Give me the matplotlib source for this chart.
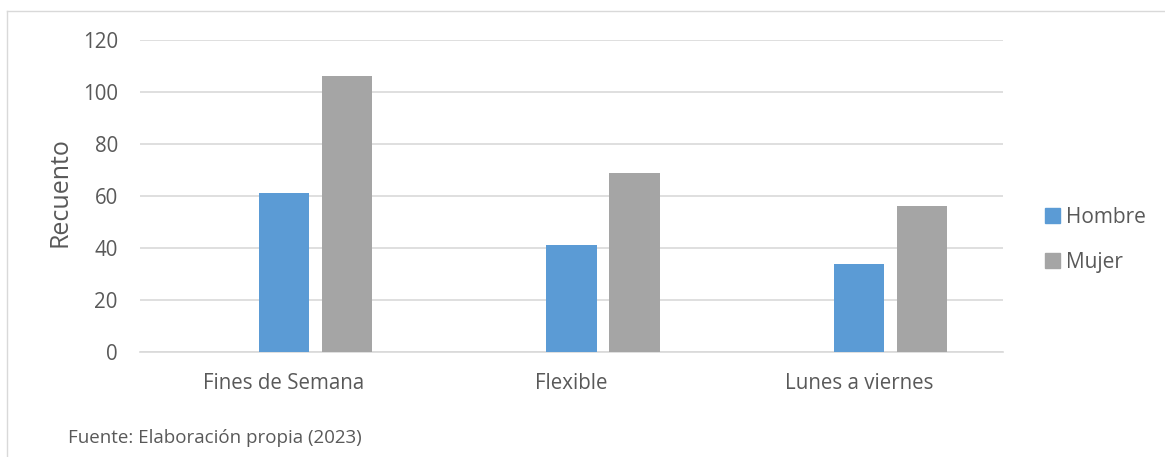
import matplotlib
matplotlib.use("Agg")
import matplotlib.pyplot as plt
from matplotlib.lines import Line2D
from matplotlib.patches import Patch
import numpy as np

categories = ["Fines de Semana", "Flexible", "Lunes a viernes"]
hombre = [61, 41, 34]
mujer = [106, 69, 56]
series_names = ["Hombre", "Mujer"]
yticks = [0, 20, 40, 60, 80, 100, 120]

C_HOMBRE = "#5B9BD5"
C_MUJER = "#A5A5A5"
C_GRID = "#D9D9D9"
C_TEXT = "#595959"

plt.rcParams["font.family"] = ["Open Sans", "DejaVu Sans"]

W, H = 1165, 457
fig = plt.figure(figsize=(W / 100, H / 100), dpi=100)
ax = fig.add_axes([140 / W, 105 / H, (1003 - 140) / W, 312 / H])

x = np.arange(len(categories))
bw = 0.174
slot = 0.219
ax.bar(x, hombre, width=bw, color=C_HOMBRE, zorder=3)
ax.bar(x + slot, mujer, width=bw, color=C_MUJER, zorder=3)

ax.set_xlim(-0.5, len(categories) - 0.5)
ax.set_ylim(0, 120)
ax.set_yticks(yticks)
ax.set_xticks(x)
ax.set_xticklabels(categories)
ax.tick_params(axis="both", length=0, labelsize=14.8, colors=C_TEXT)
ax.tick_params(axis="y", pad=16)
ax.tick_params(axis="x", pad=15)
ax.grid(axis="y", color=C_GRID, linewidth=1.2, zorder=0)
for s in ["top", "right", "left"]:
    ax.spines[s].set_visible(False)
ax.spines["bottom"].set_color(C_GRID)
ax.spines["bottom"].set_linewidth(1.2)

fig.text(60 / W, 1 - 192 / H, "Recuento", rotation=90, ha="center", va="center",
         fontsize=18, color=C_TEXT)

handles = [Patch(color=C_HOMBRE), Patch(color=C_MUJER)]
fig.legend(handles, series_names, loc="center left",
           bbox_to_anchor=(1045 / W, 1 - 240 / H), frameon=False,
           fontsize=15, labelcolor=C_TEXT, handlelength=0.7, handleheight=0.7,
           handletextpad=0.3, labelspacing=1.15, borderpad=0, borderaxespad=0)

fig.text(68 / W, 19 / H, "Fuente: Elaboración propia (2023)", ha="left", va="center",
         fontsize=13.5, color=C_TEXT)

# light frame along the top and left edges
fig.add_artist(Line2D([6.5 / W, 1], [1 - 10.5 / H, 1 - 10.5 / H], color=C_GRID, lw=1.0))
fig.add_artist(Line2D([6.5 / W, 6.5 / W], [0, 1 - 10.5 / H], color=C_GRID, lw=1.0))

fig.savefig("out.png", dpi=100, facecolor="white")
